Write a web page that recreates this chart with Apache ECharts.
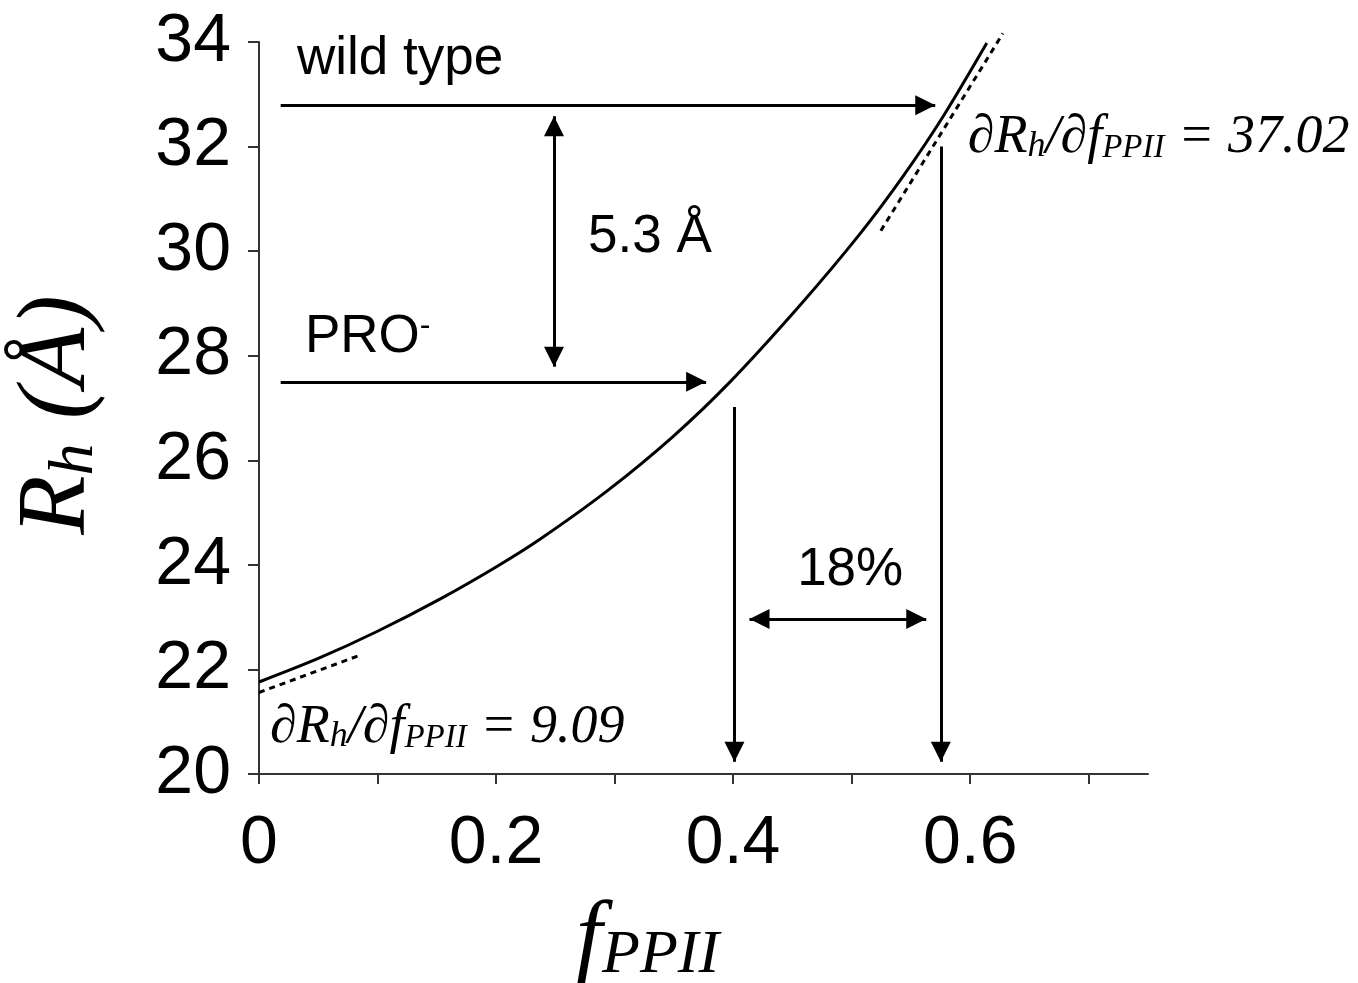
<!DOCTYPE html>
<html>
<head>
<meta charset="utf-8">
<script src="https://cdn.jsdelivr.net/npm/echarts@6/dist/echarts.min.js"></script>
<style>html,body{margin:0;padding:0;background:#fff}#c{width:1358px;height:983px}</style>
</head>
<body>
<div id="c"></div>
<script>
// ---- data ----
const fPPII = [0, 0.05, 0.10, 0.153, 0.20, 0.237, 0.294, 0.349, 0.397, 0.457, 0.507, 0.543, 0.577, 0.614];
const Rh    = [21.76, 22.21, 22.73, 23.35, 23.96, 24.49, 25.42, 26.45, 27.49, 28.98, 30.33, 31.42, 32.57, 33.98];

const tangentLowF  = [-0.061, 0.0838];
const tangentLowR  = [21.05, 22.26];
const tangentHighF = [0.5246, 0.6276];
const tangentHighR = [30.39, 34.165];

const xTickValues  = [0, 0.1, 0.2, 0.3, 0.4, 0.5, 0.6, 0.7];
const xLabelValues = [0, 0.2, 0.4, 0.6];
const yTickValues  = [20, 22, 24, 26, 28, 30, 32, 34];

const arrowStart  = [[0.0183, 32.79], [0.0183, 27.50], [0.2489, 32.58], [0.4011, 27.02], [0.5752, 32.00], [0.4138, 22.964]];
const arrowEnd    = [[0.5705, 32.79], [0.3772, 27.50], [0.2489, 27.79], [0.4011, 20.235], [0.5752, 20.235], [0.5629, 22.964]];
const arrowDouble = [false, false, true, false, false, true];

const noteText = [
  '{a|wild type}',
  '{a|5.3 Å}',
  '{a|PRO}{sup|-}',
  '{a|18%}',
  '{d|∂R}{h|h}{d|/∂f}{p|PPII}{d| = 37.02}',
  '{d|∂R}{h|h}{d|/∂f}{p|PPII}{d| = 9.09}'
];
const noteAt = [[0.032, 33.67], [0.2776, 30.27], [0.0388, 28.36], [0.454, 23.90], [0.598, 32.17], [0.0093, 20.89]];

// ---- styles ----
const SANS = 'Liberation Sans, Arial, sans-serif';
const SERIF = 'Liberation Serif, Times New Roman, serif';
const noteRich = {
  a:   {fontFamily: SANS, fontSize: 53, color: '#000'},
  sup: {fontFamily: SANS, fontSize: 32, color: '#000', verticalAlign: 'top'},
  d:   {fontFamily: SERIF, fontStyle: 'italic', fontSize: 54, color: '#000'},
  h:   {fontFamily: SERIF, fontStyle: 'italic', fontSize: 36, color: '#000', verticalAlign: 'bottom'},
  p:   {fontFamily: SERIF, fontStyle: 'italic', fontSize: 33, color: '#000', verticalAlign: 'bottom'}
};

const chart = echarts.init(document.getElementById('c'), null, {renderer: 'canvas'});

const arrowLines = arrowStart.map((s, i) => [
  {coord: s, symbol: arrowDouble[i] ? 'triangle' : 'none', symbolOffset: [0, 10]},
  {coord: arrowEnd[i], symbol: 'triangle', symbolOffset: [0, 10]}
]);

const axisLine = {lineStyle: {color: '#333', width: 2}};

chart.setOption({
  animation: false,
  backgroundColor: '#fff',
  grid: {left: 259, right: 210, top: 42, bottom: 209, containLabel: false, outerBoundsMode: 'none'},
  xAxis: {
    type: 'value', min: 0, max: 0.75, interval: 0.1,
    axisLine: axisLine,
    splitLine: {show: false},
    axisTick: {show: true, inside: false, length: 10, lineStyle: {color: '#333', width: 2}, customValues: xTickValues},
    axisLabel: {
      customValues: xLabelValues,
      margin: 36, color: '#000', fontFamily: SANS, fontSize: 68,
      formatter: v => (Math.abs(v * 5 - Math.round(v * 5)) < 1e-6 && v < 0.7) ? String(+v.toFixed(1)) : ''
    },
    name: '{f|f}{s|PPII}',
    nameLocation: 'middle',
    nameGap: 119,
    nameTextStyle: {
      padding: [0, 112, 0, 0],
      rich: {
        f: {fontFamily: SERIF, fontStyle: 'italic', fontSize: 94, color: '#000'},
        s: {fontFamily: SERIF, fontStyle: 'italic', fontSize: 62, color: '#000', verticalAlign: 'bottom'}
      }
    }
  },
  yAxis: {
    type: 'value', min: 20, max: 34, interval: 2,
    axisLine: Object.assign({show: true}, axisLine),
    splitLine: {show: false},
    axisTick: {show: true, inside: false, length: 11, lineStyle: {color: '#333', width: 2}, customValues: yTickValues},
    axisLabel: {customValues: yTickValues, margin: 28, color: '#000', fontFamily: SANS, fontSize: 68},
    name: '{r|R}{h|h}{r| (Å)}',
    nameLocation: 'middle',
    nameRotate: 90,
    nameGap: 152,
    nameTextStyle: {
      padding: [0, 14, 0, 0],
      rich: {
        r: {fontFamily: SERIF, fontStyle: 'italic', fontSize: 97, color: '#000'},
        h: {fontFamily: SERIF, fontStyle: 'italic', fontSize: 64, color: '#000', verticalAlign: 'bottom'}
      }
    }
  },
  series: [
    {
      name: 'Rh curve', type: 'line',
      data: fPPII.map((f, i) => [f, Rh[i]]),
      smooth: 0.3,
      showSymbol: false, symbol: 'none',
      lineStyle: {color: '#000', width: 3},
      silent: true, clip: false,
      markLine: {
        silent: true, animation: false,
        symbol: ['none', 'none'], symbolSize: 20,
        label: {show: false},
        emphasis: {disabled: true},
        lineStyle: {color: '#000', width: 3, type: 'solid'},
        itemStyle: {color: '#000'},
        data: arrowLines
      }
    },
    {
      name: 'tangent low', type: 'line',
      data: tangentLowF.map((f, i) => [f, tangentLowR[i]]),
      symbol: 'none', clip: false, silent: true,
      lineStyle: {color: '#000', width: 3, type: [6, 5]}
    },
    {
      name: 'tangent high', type: 'line',
      data: tangentHighF.map((f, i) => [f, tangentHighR[i]]),
      symbol: 'none', clip: false, silent: true,
      lineStyle: {color: '#000', width: 3, type: [6, 5]}
    },
    {
      name: 'notes', type: 'scatter', silent: true, clip: false,
      symbolSize: 0,
      itemStyle: {color: '#000', opacity: 1},
      label: {show: true, color: '#000', opacity: 1},
      data: noteAt.map((p, i) => ({
        value: p,
        label: {show: true, position: 'right', distance: 0, color: '#000', formatter: noteText[i], rich: noteRich}
      }))
    }
  ]
});
</script>
</body>
</html>
